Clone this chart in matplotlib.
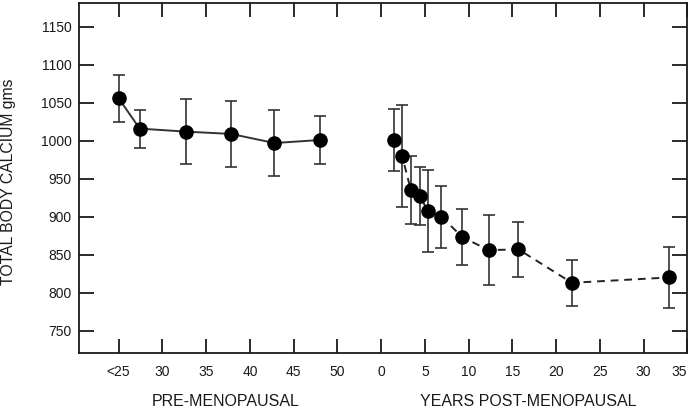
import matplotlib
matplotlib.use('Agg')
import matplotlib.pyplot as plt

plt.rcParams['font.family'] = ['Liberation Sans', 'DejaVu Sans']

# pre-menopausal: age (<25 drawn at 25), calcium, error
pre_age = [25, 27.4, 32.7, 37.85, 42.8, 48.0]
pre_ca = [1056, 1016, 1012, 1009, 997, 1001]
pre_err = [31, 25, 43, 43, 44, 32]

# post-menopausal: years since menopause, calcium, error
post_yrs = [1.45, 2.4, 3.4, 4.4, 5.4, 6.9, 9.3, 12.3, 15.7, 21.8, 32.85]
post_ca = [1001, 980, 935, 927, 907, 900, 873, 856, 857, 813, 820]
post_err = [41, 67, 45, 38, 54, 41, 37, 46, 36, 30, 40]

pre_ticks = [25, 30, 35, 40, 45, 50]
pre_labels = ['<25', '30', '35', '40', '45', '50']
post_ticks = [0, 5, 10, 15, 20, 25, 30, 35]
y_ticks = [750, 800, 850, 900, 950, 1000, 1050, 1100, 1150]

offset = 55  # post axis starts where age 55 would be

fig = plt.figure(figsize=(6.93, 4.09), dpi=100)
ax = fig.add_axes([0.1144, 0.1377, 0.8774, 0.8543])

ink = '#1a1a1a'
ax.errorbar(pre_age, pre_ca, yerr=pre_err, fmt='-o', color='#333333',
            mfc='black', mec='black', ms=9.5, lw=1.4, elinewidth=1.2,
            ecolor='#333333', capsize=4.5, capthick=1.2)
post_x = [y + offset for y in post_yrs]
ax.errorbar(post_x, post_ca, yerr=post_err, fmt='o', color='black',
            ms=9.5, elinewidth=1.2, ecolor='#333333', capsize=4.5, capthick=1.2)
ax.plot(post_x, post_ca, ls=(0, (4, 3)), color='#222222', lw=1.4, zorder=1)

ax.set_xlim(20.5, 90.0)
ax.set_ylim(721, 1181)

xt = pre_ticks + [t + offset for t in post_ticks]
xl = pre_labels + [str(t) for t in post_ticks]
ax.set_xticks(xt)
ax.set_xticklabels(xl)
ax.set_yticks(y_ticks)

ax.tick_params(axis='x', direction='in', length=10, width=1.3, pad=9,
               top=True, labelsize=10, colors=ink)
ax.tick_params(axis='y', direction='in', length=11, width=1.3, pad=5.5,
               right=True, labelsize=10, colors=ink)
# last label sits at the right edge, keep it inside the figure
ax.get_xticklabels()[-1].set_horizontalalignment('right')
for s in ax.spines.values():
    s.set_linewidth(1.3)
    s.set_color(ink)

fig.text(9 / 693, 1 - 182 / 409, 'TOTAL BODY CALCIUM gms', rotation=90,
         ha='center', va='center', fontsize=11.3, color=ink)
fig.text(226 / 693, 1 - 401 / 409, 'PRE-MENOPAUSAL', ha='center',
         va='center', fontsize=11.5, color=ink)
fig.text(528 / 693, 1 - 401 / 409, 'YEARS POST-MENOPAUSAL', ha='center',
         va='center', fontsize=11.5, color=ink)

fig.savefig('out.png', dpi=100)
